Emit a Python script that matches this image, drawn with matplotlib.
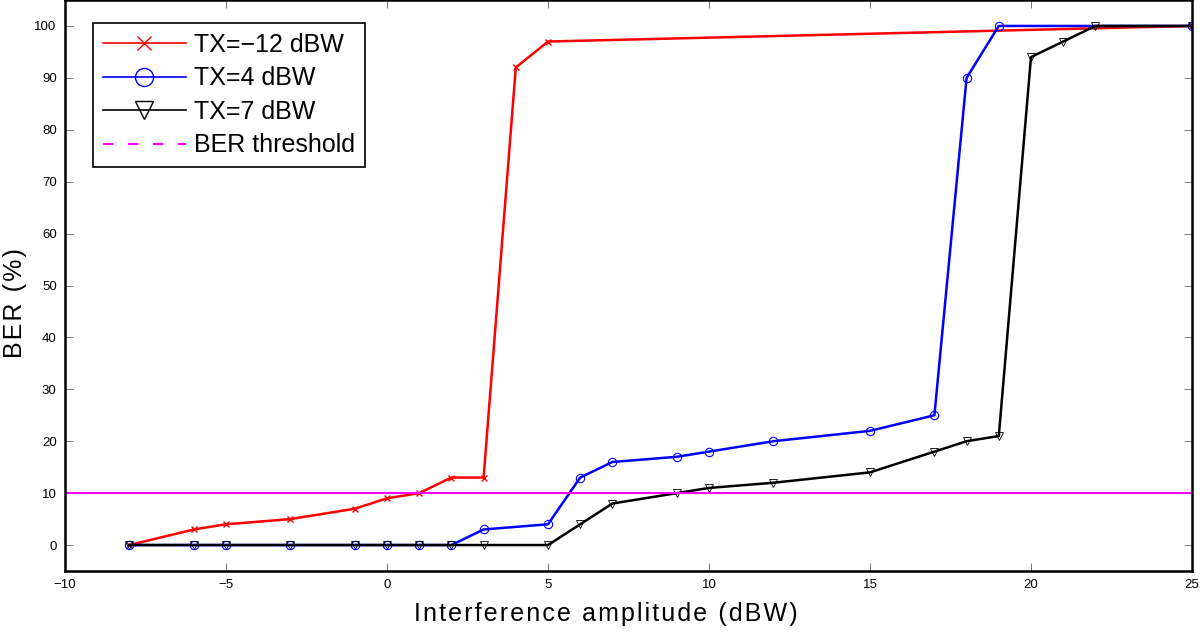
import matplotlib
matplotlib.use('Agg')
import matplotlib.pyplot as plt
from matplotlib.lines import Line2D

plt.rcParams['font.family'] = ['Liberation Sans', 'DejaVu Sans']

# red curve, TX = -12 dBW
x_red = [-8, -6, -5, -3, -1, 0, 1, 2, 3, 4, 5, 25]
y_red = [0, 3, 4, 5, 7, 9, 10, 13, 13, 92, 97, 100]

# blue curve, TX = 4 dBW
x_blue = [-8, -6, -5, -3, -1, 0, 1, 2, 3, 5, 6, 7, 9, 10, 12, 15, 17, 18, 19, 25]
y_blue = [0, 0, 0, 0, 0, 0, 0, 0, 3, 4, 13, 16, 17, 18, 20, 22, 25, 90, 100, 100]

# black curve, TX = 7 dBW
x_black = [-8, -6, -5, -3, -1, 0, 1, 2, 3, 5, 6, 7, 9, 10, 12, 15, 17, 18, 19, 20, 21, 22, 25]
y_black = [0, 0, 0, 0, 0, 0, 0, 0, 0, 0, 4, 8, 10, 11, 12, 14, 18, 20, 21, 94, 97, 100, 100]

threshold = 10

labels = ['TX=\u221212 dBW', 'TX=4 dBW', 'TX=7 dBW', 'BER threshold']


def spaced(s):
    # the axis labels in the original are letter-spaced
    return '\u200a'.join(s)


fig = plt.figure(figsize=(12, 6.32), dpi=100)
ax = fig.add_axes([65 / 1200, 61 / 632, 1127 / 1200, 571 / 632])

ax.plot(x_red, y_red, 'x-', color='red', lw=1.8, ms=5, mew=1)
ax.plot(x_blue, y_blue, 'o-', color='blue', lw=1.8, ms=6, mfc='none', mew=0.8)
ax.plot(x_black, y_black, 'v-', color='black', lw=1.8, ms=6, mfc='none', mew=0.6)
ax.axhline(threshold, color='magenta', lw=1.5)

handles = [
    Line2D([], [], color='red', marker='x', ms=10, lw=1.2),
    Line2D([], [], color='blue', marker='o', ms=13, mfc='none', lw=1.2),
    Line2D([], [], color='black', marker='v', ms=13, mfc='none', lw=1.2),
    Line2D([], [], color='magenta', ls=(0, (5, 7)), lw=1.5),
]
leg = ax.legend(handles, labels, loc='upper left', bbox_to_anchor=(0.025, 0.96),
                borderaxespad=0, fontsize=18, fancybox=False, edgecolor='black',
                framealpha=1, handlelength=3.3, handletextpad=0.35, borderpad=0.4,
                labelspacing=0.38)
leg.get_frame().set_linewidth(1.2)

ax.set_xlim(-10, 25)
ax.set_ylim(-5, 105)
ax.set_xticks(range(-10, 26, 5))
ax.set_yticks(range(0, 101, 10))
ax.tick_params(direction='in', top=True, right=True, labelsize=9.5, length=6, width=0.6,
               color='0.4', pad=6)
for s in ax.spines.values():
    s.set_linewidth(1.8)

ax.set_xlabel(spaced('Interference amplitude (dBW)'), fontsize=18)
ax.set_ylabel(spaced('BER (%)'), fontsize=18)
ax.xaxis.set_label_coords(0.48, -0.054)
ax.yaxis.set_label_coords(-0.034, 0.47)

fig.savefig('out.png', dpi=100)
